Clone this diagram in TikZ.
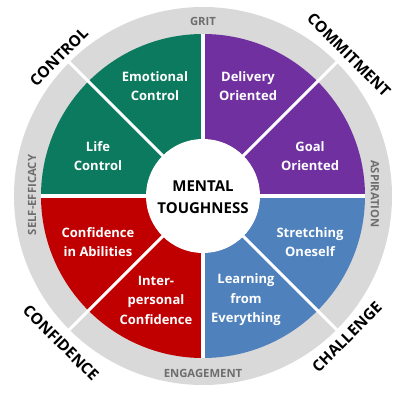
\documentclass[tikz,border=0pt]{standalone}
\usepackage{fontspec}
\setmainfont{Open Sans}
\usetikzlibrary{calc}
\definecolor{ctrlgreen}{HTML}{0B7A5E}
\definecolor{commpurple}{HTML}{7030A0}
\definecolor{confred}{HTML}{C00000}
\definecolor{challblue}{HTML}{4F81BD}
\definecolor{ringgray}{HTML}{D9D9D9}
\definecolor{ringtext}{HTML}{6E6E6E}
\tikzset{
  cell/.style={text=white, font=\bfseries\fontsize{13}{19.5}\selectfont, align=center, inner sep=0pt},
  hub/.style={text=black, font=\bfseries\fontsize{15}{22}\selectfont, align=center, inner sep=0pt},
  ringlabel/.style={text=ringtext, font=\bfseries\fontsize{11.3}{13}\selectfont, inner sep=0pt},
  outerlabel/.style={text=black, font=\bfseries\fontsize{15.5}{18}\selectfont, inner sep=0pt},
  gapline/.style={draw=white, line width=4.5pt},
  diagline/.style={draw=white, line width=3pt}
}
\begin{document}
\begin{tikzpicture}[x=1pt,y=1pt]
\useasboundingbox (0,0) rectangle (400,400);
\coordinate (C) at (203,204);
% outer ring
\fill[ringgray] (C) circle[radius=189pt];
% quadrants
\fill[commpurple] (C) -- ++(0:162pt) arc[start angle=0, end angle=90, radius=162pt] -- cycle;
\fill[ctrlgreen] (C) -- ++(90:162pt) arc[start angle=90, end angle=180, radius=162pt] -- cycle;
\fill[confred] (C) -- ++(180:162pt) arc[start angle=180, end angle=270, radius=162pt] -- cycle;
\fill[challblue] (C) -- ++(270:162pt) arc[start angle=270, end angle=360, radius=162pt] -- cycle;
% gaps between quadrants
\coordinate (gN) at ($(C)+(0,162)$);
\coordinate (gS) at ($(C)+(0,-162)$);
\coordinate (gW) at ($(C)+(-162,0)$);
\coordinate (gE) at ($(C)+(162,0)$);
\draw[gapline] (gN) -- (gS);
\draw[gapline] (gW) -- (gE);
% diagonal separators
\coordinate (dNE) at ($(C)+(135,135)$);
\coordinate (dNW) at ($(C)+(-135,135)$);
\coordinate (dSW) at ($(C)+(-135,-135)$);
\coordinate (dSE) at ($(C)+(135,-135)$);
\draw[diagline] (C) -- (dNE);
\draw[diagline] (C) -- (dNW);
\draw[diagline] (C) -- (dSW);
\draw[diagline] (C) -- (dSE);
% centre
\fill[white] (C) circle[radius=57pt];
\node[hub] (hub) at (203,203) {MENTAL\\TOUGHNESS};
% cells
\node[cell] (emo) at (155,314) {Emotional\\Control};
\node[cell] (life) at (98,244) {Life\\Control};
\node[cell] (deliv) at (248,314) {Delivery\\Oriented};
\node[cell] (goal) at (310,244) {Goal\\Oriented};
\node[cell] (abil) at (98,158) {Confidence\\in Abilities};
\node[cell] (inter) at (156,100) {Inter-\\personal\\Confidence};
\node[cell] (stretch) at (310,158) {Stretching\\Oneself};
\node[cell] (learn) at (246,100) {Learning\\from\\Everything};
% ring labels
\node[ringlabel] (grit) at (203,379) {GRIT};
\node[ringlabel] (engage) at (203,27) {ENGAGEMENT};
\node[ringlabel, rotate=90] (selfeff) at (32,205) {SELF-EFFICACY};
\node[ringlabel, rotate=-90] (aspire) at (375,206) {ASPIRATION};
% outer labels
\node[outerlabel, rotate=45] (control) at (59,343) {CONTROL};
\node[outerlabel, rotate=-45] (commit) at (349,345) {COMMITMENT};
\node[outerlabel, rotate=-45] (confid) at (61,57) {CONFIDENCE};
\node[outerlabel, rotate=45] (chall) at (347,63) {CHALLENGE};
\end{tikzpicture}
\end{document}
